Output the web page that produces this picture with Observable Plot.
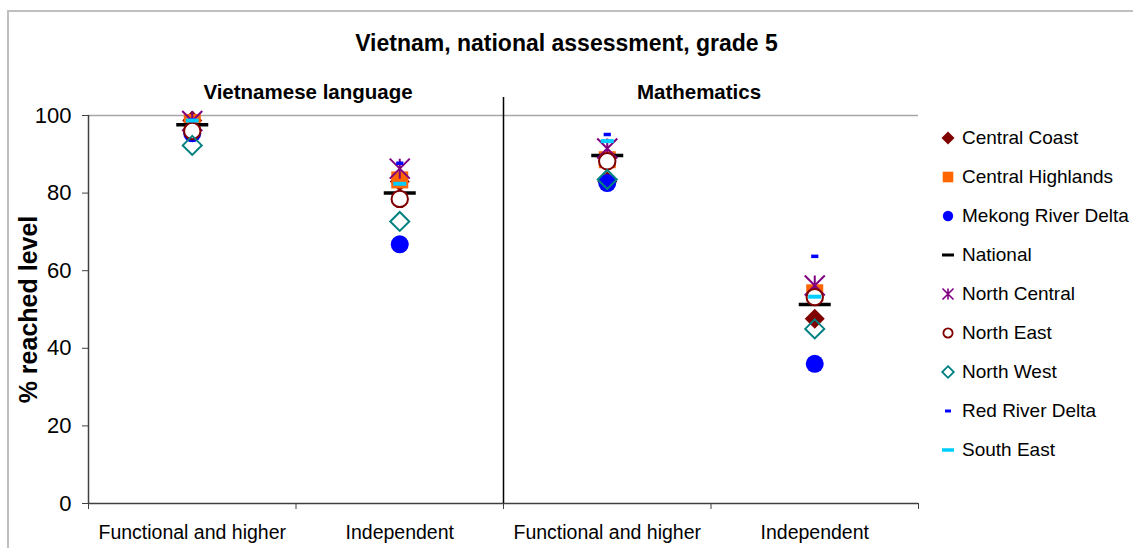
<!DOCTYPE html>
<html><head><meta charset="utf-8">
<script src="https://cdn.jsdelivr.net/npm/d3@7"></script>
<script src="https://cdn.jsdelivr.net/npm/@observablehq/plot@0.6"></script>
<style>
body{margin:0;background:#fff;font-family:"Liberation Sans",Arial,sans-serif;}
#wrap{position:relative;width:1133px;height:548px;overflow:hidden;}
#border{position:absolute;left:7px;top:10px;width:1300px;height:700px;border-left:2px solid #bfbfbf;border-top:2px solid #bfbfbf;}
#title{position:absolute;left:0;width:1133px;top:30px;line-height:26px;text-align:center;font-weight:bold;font-size:23px;}
#chart{position:absolute;left:0;top:0;}
#legend{position:absolute;left:936px;top:118px;}
.item{height:39px;display:flex;align-items:center;font-size:19px;white-space:nowrap;}
.item svg{margin-right:2px;}
svg [aria-label="y-axis label"]{font-size:25px;font-weight:bold;}
</style></head>
<body>
<div id="wrap">
  <div id="border"></div>
  <div id="title">Vietnam, national assessment, grade 5</div>
  <div id="chart"></div>
  <div id="legend"></div>
</div>
<script>
// ---- data ----
const subjects = ["Vietnamese language", "Mathematics"];
const levels = ["Functional and higher", "Independent"];
const regions = ["Central Coast","Central Highlands","Mekong River Delta","National","North Central","North East","North West","Red River Delta","South East"];
const yTicks = [0, 20, 40, 60, 80, 100];
// values in order: Vietnamese/Functional, Vietnamese/Independent, Math/Functional, Math/Independent
const centralCoast     = [98.7, 83.0, 83.0, 47.6];
const centralHighlands = [98.2, 83.4, 88.6, 54.3];
const mekongRiverDelta = [95.4, 66.8, 82.6, 36.0];
const national         = [97.6, 80.0, 89.7, 51.3];
const northCentral     = [98.6, 86.3, 91.5, 56.2];
const northEast        = [96.0, 78.5, 88.2, 53.2];
const northWest        = [92.3, 72.7, 83.5, 45.0];
const redRiverDelta    = [98.8, 87.7, 95.1, 63.7];
const southEast        = [98.7, 82.4, 93.4, 53.3];

const seriesValues = [centralCoast, centralHighlands, mekongRiverDelta, national, northCentral, northEast, northWest, redRiverDelta, southEast];

// categories (subject x level)
const categories = subjects.flatMap(s => levels.map(l => ({subject: s, level: l})));

const rows = [];
regions.forEach((r, k) => seriesValues[k].forEach((v, i) => rows.push({region: r, pos: i + 0.5, value: v})));

// ---- symbols ----
const rad = size => Math.sqrt(size / Math.PI);
const diamond = {draw(c, size){const r = rad(size); c.moveTo(0,-r); c.lineTo(r,0); c.lineTo(0,r); c.lineTo(-r,0); c.closePath();}};
const square = {draw(c, size){const r = rad(size); c.rect(-r,-r,2*r,2*r);}};
const circle = {draw(c, size){const r = rad(size); c.moveTo(r,0); c.arc(0,0,r,0,2*Math.PI);}};
const dash = h => ({draw(c, size){const r = rad(size); c.rect(-r,-h/2,2*r,h);}});
const star = {draw(c, size){const r = rad(size); c.moveTo(-r,-r); c.lineTo(r,r); c.moveTo(-r,r); c.lineTo(r,-r); c.moveTo(0,-r); c.lineTo(0,r);}};

const styles = {
  "Central Coast":      {symbol: diamond,  r: 10,  fill: "#800000", stroke: "none", lr: 6.5},
  "Central Highlands":  {symbol: square,   r: 8.5, fill: "#FF6600", stroke: "none", lr: 5.3},
  "Mekong River Delta": {symbol: circle,   r: 9,   fill: "#0000FF", stroke: "none", lr: 5.2},
  "National":           {symbol: dash(3.5),r: 16,  fill: "#000000", stroke: "none", lr: 6, lsym: dash(3)},
  "North Central":      {symbol: star,     r: 10,  fill: "none", stroke: "#800080", strokeWidth: 2, lr: 5.5, lsw: 1.6},
  "North East":         {symbol: circle,   r: 8.2, fill: "#ffffff", stroke: "#800000", strokeWidth: 2, lr: 4.6, lsw: 1.8},
  "North West":         {symbol: diamond,  r: 9.5, fill: "none", stroke: "#008080", strokeWidth: 2, lr: 5.8, lsw: 1.8},
  "Red River Delta":    {symbol: dash(3.5),r: 3.6, fill: "#0000FF", stroke: "none", lr: 3, lsym: dash(3)},
  "South East":         {symbol: dash(4),  r: 6.5, fill: "#00CCFF", stroke: "none", lr: 6, lsym: dash(3.5)}
};

const dotMarks = regions.map(r => {
  const s = styles[r];
  return Plot.dot(rows.filter(d => d.region === r), {
    x: "pos", y: "value", symbol: s.symbol, r: s.r,
    fill: s.fill, stroke: s.stroke, strokeWidth: s.strokeWidth || 1
  });
});

// panel titles, slightly nudged like the original text boxes
const panelNudge = [12, -12];
const panelMarks = subjects.map((s, i) => Plot.text([s], {
  x: () => i * levels.length + levels.length / 2, frameAnchor: "top", dy: -31, dx: panelNudge[i],
  text: d => d, fontWeight: "bold", fontSize: 20.5
}));

const chart = Plot.plot({
  width: 1133, height: 548,
  marginLeft: 88, marginRight: 215, marginTop: 115, marginBottom: 45,
  x: {domain: [0, categories.length], axis: null},
  y: {domain: [0, 100], axis: null},
  style: {fontFamily: "'Liberation Sans', Arial, sans-serif", background: "transparent", overflow: "visible", color: "#000"},
  marks: [
    Plot.ruleY([100], {stroke: "#a6a6a6", strokeWidth: 1.5}),
    Plot.axisY({ticks: yTicks, tickSize: 6, tickPadding: 11, fontSize: 22, stroke: "#404040",
      label: "% reached level", labelAnchor: "center", labelOffset: 69, labelArrow: "none"}),
    Plot.axisX({ticks: d3.range(0, categories.length + 1), tickSize: 6, tickFormat: () => "", stroke: "#404040", label: null}),
    Plot.axisX({ticks: categories.map((c, i) => i + 0.5), tickSize: 0, tickPadding: 22, fontSize: 19.5,
      tickFormat: t => categories[Math.floor(t)].level, label: null}),
    Plot.ruleX([0], {stroke: "#404040", strokeWidth: 1.5}),
    Plot.ruleY([0], {stroke: "#404040", strokeWidth: 1.5}),
    Plot.ruleX([levels.length], {y1: 100, y2: 0, insetTop: -18, stroke: "#000", strokeWidth: 1.5}),
    ...panelMarks,
    ...dotMarks
  ]
});
document.getElementById("chart").appendChild(chart);

// ---- legend ----
const legend = d3.select("#legend");
regions.forEach(r => {
  const s = styles[r];
  const item = legend.append("div").attr("class", "item");
  const svg = item.append("svg").attr("width", 24).attr("height", 24);
  svg.append("path")
    .attr("transform", "translate(12,12)")
    .attr("d", d3.symbol(s.lsym || s.symbol, s.lr * s.lr * Math.PI)())
    .attr("fill", s.fill).attr("stroke", s.stroke).attr("stroke-width", s.lsw || 1);
  item.append("span").text(r);
});
</script>
</body></html>
